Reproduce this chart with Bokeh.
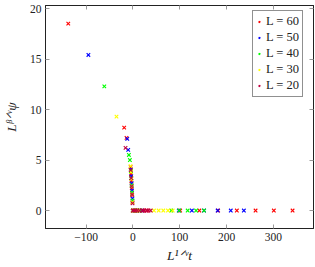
from bokeh.plotting import figure
from bokeh.models import Range1d, LinearAxis, Legend, LegendItem, FixedTicker, CustomJSTickFormatter
from bokeh.embed import file_html
from bokeh.resources import INLINE

# ---- data ----
series_labels = ["L = 60", "L = 50", "L = 40", "L = 30", "L = 20"]
series_colors = ["#ff0000", "#0000ff", "#00ff00", "#ffff00", "#bf0040"]

x_L60 = [-138, -18.6, -13.6, -4.8, -4.0, -3.2, -2.4, -1.6, -0.8, 0, 6, 14, 22, 30, 101, 142, 182, 222, 262, 301, 341]
y_L60 = [18.5, 8.2, 7.2, 4.3, 3.6, 2.9, 2.2, 1.5, 0.8, 0, 0, 0, 0, 0, 0, 0, 0, 0, 0, 0, 0]

x_L50 = [-95, -12, -10, -4.5, -3.6, -2.7, -1.8, -0.9, 0, 5, 12, 20, 98, 126, 152, 181, 209, 237]
y_L50 = [15.4, 7.1, 6.0, 4.1, 3.4, 2.7, 2.0, 1.2, 0, 0, 0, 0, 0, 0, 0, 0, 0, 0]

x_L40 = [-61, -8.5, -6.4, -4.2, -3.4, -2.6, -1.8, -0.9, 0, 4, 9, 15, 82, 99, 117, 135, 152]
y_L40 = [12.3, 5.5, 5.0, 3.9, 3.2, 2.5, 1.8, 1.0, 0, 0, 0, 0, 0, 0, 0, 0, 0]

x_L30 = [-35, -5, -4, -3.2, -2.4, -1.6, -0.8, 0, 3, 7, 12, 45, 55, 65, 75, 85]
y_L30 = [9.3, 4.4, 3.8, 3.1, 2.4, 1.6, 0.8, 0, 0, 0, 0, 0, 0, 0, 0, 0]

x_L20 = [-15.7, -4.6, -3.6, -2.6, -1.6, -0.8, 0, 2, 5, 9, 14, 20, 24.5, 29, 33.5, 38]
y_L20 = [6.2, 4.0, 3.2, 2.4, 1.6, 0.7, 0, 0, 0, 0, 0, 0, 0, 0, 0, 0]

x_ticks = [-100, 0, 100, 200, 300]
y_ticks = [0, 5, 10, 15, 20]

x_title = "L\u00b9\u141f\u1d5bt"      # L^{1/nu} t
y_title = "L\u1d5d\u141f\u1d5b\u03c8"  # L^{beta/nu} psi

xs = [x_L60, x_L50, x_L40, x_L30, x_L20]
ys = [y_L60, y_L50, y_L40, y_L30, y_L20]

FONT = "Liberation Serif"
INK = "#222222"

p = figure(width=315, height=267, output_backend="svg", toolbar_location=None,
           x_range=Range1d(-186.6, 385.7), y_range=Range1d(-1.78, 20.3),
           min_border_left=44, min_border_right=2, min_border_top=5, min_border_bottom=39)
p.grid.visible = False
p.outline_line_color = INK
p.outline_line_width = 1

fmt = CustomJSTickFormatter(code="return tick < 0 ? '\u2212' + (-tick) : String(tick);")

def style_axis(ax, ticks, show_labels=True):
    ax.ticker = FixedTicker(ticks=ticks)
    ax.major_tick_in = 4
    ax.major_tick_out = 0
    ax.minor_tick_line_color = None
    ax.major_tick_line_color = "#9a9a9a"
    ax.axis_line_color = INK
    ax.formatter = fmt
    if show_labels:
        ax.major_label_text_font = FONT
        ax.major_label_text_font_size = "11.5px"
        ax.major_label_text_color = INK
        ax.major_label_standoff = 4
        ax.axis_label_text_font = FONT
        ax.axis_label_text_font_style = "italic"
        ax.axis_label_text_font_size = "13.5px"
        ax.axis_label_text_color = INK
    else:
        ax.major_label_text_font_size = "1px"
        ax.major_label_text_color = None
        ax.major_label_standoff = 0

style_axis(p.xaxis[0], x_ticks)
style_axis(p.yaxis[0], y_ticks)
p.xaxis[0].axis_label = x_title
p.xaxis[0].axis_label_standoff = 4
p.yaxis[0].axis_label = y_title
p.yaxis[0].axis_label_standoff = 8

top_ax = LinearAxis()
style_axis(top_ax, x_ticks, show_labels=False)
p.add_layout(top_ax, "above")
right_ax = LinearAxis()
style_axis(right_ax, y_ticks, show_labels=False)
p.add_layout(right_ax, "right")

items = []
for lab, col, xv, yv in zip(series_labels, series_colors, xs, ys):
    r = p.scatter(xv, yv, marker="x", size=5, line_color=col, line_width=1.1)
    items.append(LegendItem(label=lab, renderers=[r]))

legend = Legend(items=items, location=(207, 131),
                label_text_font=FONT, label_text_font_size="12.5px", label_text_color=INK,
                glyph_width=6, glyph_height=15, label_height=15, label_standoff=4,
                spacing=1, padding=3, margin=0,
                border_line_color=INK, border_line_width=1,
                background_fill_color="white", background_fill_alpha=1)
p.add_layout(legend, "center")

open("out.html", "w").write(file_html(p, INLINE))
